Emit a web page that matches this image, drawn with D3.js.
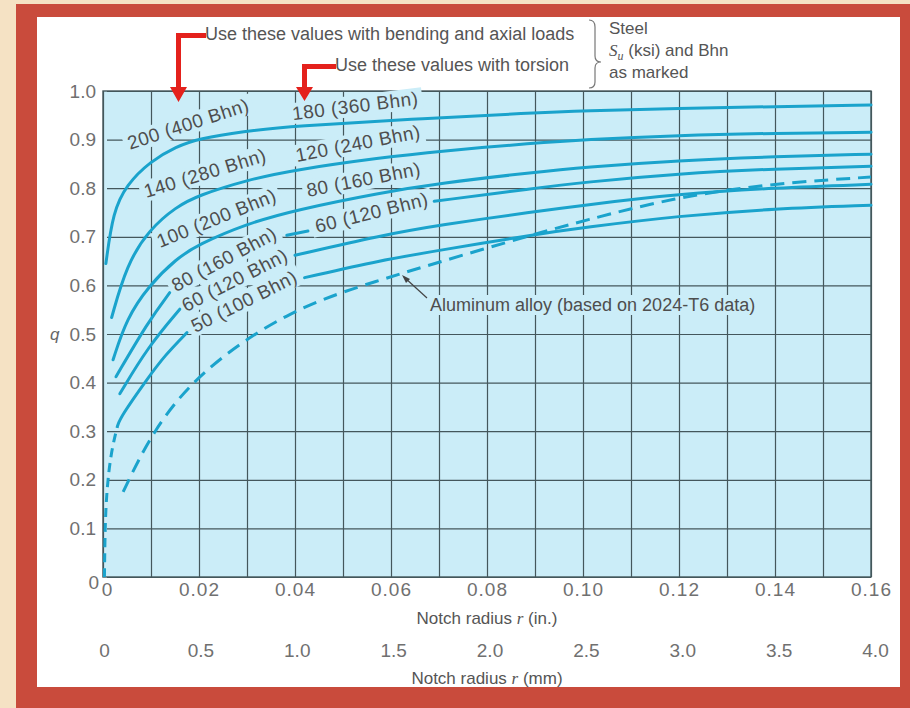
<!DOCTYPE html>
<html>
<head>
<meta charset="utf-8">
<script src="https://cdn.jsdelivr.net/npm/d3@7"></script>
<style>
  body { margin: 0; background: #f5e2c4; }
  svg { display: block; }
  text { font-family: "Liberation Sans", Arial, sans-serif; }
</style>
</head>
<body>
<div id="chart"></div>
<script>
// ---- data (x = notch radius in inches, q = notch sensitivity) ----
var xTicksIn  = [0, 0.02, 0.04, 0.06, 0.08, 0.10, 0.12, 0.14, 0.16];
var xLabelsIn = ["0", "0.02", "0.04", "0.06", "0.08", "0.10", "0.12", "0.14", "0.16"];
var xTicksMm  = [0, 0.5, 1.0, 1.5, 2.0, 2.5, 3.0, 3.5, 4.0];
var xLabelsMm = ["0", "0.5", "1.0", "1.5", "2.0", "2.5", "3.0", "3.5", "4.0"];
var yTicks    = [0, 0.1, 0.2, 0.3, 0.4, 0.5, 0.6, 0.7, 0.8, 0.9, 1.0];
var yLabels   = ["0", "0.1", "0.2", "0.3", "0.4", "0.5", "0.6", "0.7", "0.8", "0.9", "1.0"];

// each steel curve is a list of visible pieces (gaps are where labels sit)
var steel200 = [[[0.0006,0.645],[0.0021,0.752],[0.0049,0.807],[0.0098,0.855],[0.0153,0.886],[0.02,0.902],
                 [0.029,0.917],[0.04,0.928],[0.064,0.942],[0.0896,0.955],[0.10,0.959],[0.12,0.964],[0.14,0.968],[0.16,0.971]]];
var steel140 = [[[0.0018,0.534],[0.0049,0.642],[0.0096,0.715],[0.0153,0.762],[0.0198,0.785],[0.03,0.817],
                 [0.04,0.838],[0.058,0.863],[0.07,0.876],[0.09,0.893],[0.10,0.900],[0.12,0.909],[0.14,0.913],[0.16,0.915]]];
var steel100 = [[[0.0021,0.447],[0.0049,0.532],[0.0096,0.600],[0.0153,0.655],[0.0198,0.684],[0.03,0.727],
                 [0.04,0.755],[0.058,0.791],[0.07,0.810],[0.09,0.833],[0.10,0.843],[0.12,0.857],[0.14,0.865],[0.16,0.870]]];
var steel80  = [[[0.0027,0.412],[0.0094,0.525],[0.0139,0.585]],
                [[0.0383,0.703],[0.0427,0.712]],
                [[0.069,0.773],[0.09,0.800],[0.10,0.812],[0.12,0.830],[0.14,0.840],[0.16,0.845]]];
var steel60  = [[[0.0035,0.377],[0.0094,0.474],[0.016,0.551]],
                [[0.04,0.662],[0.058,0.703],[0.07,0.724],[0.09,0.752],[0.10,0.765],[0.12,0.788],[0.14,0.801],[0.16,0.808]]];
var steel50  = [[[0.003,0.31],[0.0037,0.33],[0.0094,0.41],[0.0128,0.455],[0.0175,0.503]],
                [[0.042,0.616],[0.058,0.652],[0.07,0.672],[0.09,0.705],[0.10,0.719],[0.12,0.743],[0.14,0.758],[0.16,0.765]]];
var steel50Tail = [[0.0003,0.0],[0.0004,0.08],[0.0006,0.15],[0.0012,0.22],[0.002,0.27],[0.003,0.31]];
var aluminum = [[0.0042,0.175],[0.0102,0.299],[0.02,0.423],[0.039,0.552],[0.058,0.612],[0.07,0.648],
                [0.088,0.700],[0.10,0.733],[0.12,0.783],[0.14,0.810],[0.16,0.823]];

var bendingLabels = ["200 (400 Bhn)", "140 (280 Bhn)", "100 (200 Bhn)", "80 (160 Bhn)", "60 (120 Bhn)", "50 (100 Bhn)"];
var torsionLabels = ["180 (360 Bhn)", "120 (240 Bhn)", "80 (160 Bhn)", "60 (120 Bhn)"];

// ---- layout ----
var W = 910, H = 708;
var plot = { left: 103, right: 871, top: 91, bottom: 577 };
var plotBg = "#cbedf8", curveColor = "#1aa3cc", gridColor = "#44575c";

var svg = d3.select("#chart").append("svg").attr("width", W).attr("height", H);

// frame
svg.append("rect").attr("width", W).attr("height", H).attr("fill", "#f5e2c4");
svg.append("rect").attr("x", 16).attr("y", 4).attr("width", W - 16).attr("height", H - 4).attr("fill", "#c94b3c");
svg.append("rect").attr("x", 37).attr("y", 17).attr("width", 863).attr("height", 670).attr("fill", "#ffffff");

var x = d3.scaleLinear().domain([0, 0.16]).range([plot.left, plot.right]);
var xMm = d3.scaleLinear().domain([0, 4]).range([plot.left + 1, plot.right + 4]);
var y = d3.scaleLinear().domain([0, 1]).range([plot.bottom, plot.top]);

svg.append("rect")
  .attr("x", plot.left).attr("y", plot.top)
  .attr("width", plot.right - plot.left).attr("height", plot.bottom - plot.top)
  .attr("fill", plotBg);

// grid
var gridX = d3.range(0, 17).map(function(i) { return i / 100; });
svg.append("g")
  .attr("transform", "translate(0," + plot.bottom + ")")
  .call(d3.axisBottom(x).tickValues(gridX).tickSize(-(plot.bottom - plot.top)).tickFormat(""))
  .call(function(g) { g.select(".domain").remove(); })
  .selectAll("line").attr("stroke", gridColor).attr("stroke-width", 1.2);
svg.append("g")
  .attr("transform", "translate(" + plot.left + ",0)")
  .call(d3.axisLeft(y).tickValues(yTicks).tickSize(-(plot.right - plot.left)).tickFormat(""))
  .call(function(g) { g.select(".domain").remove(); })
  .selectAll("line").attr("stroke", gridColor).attr("stroke-width", 1.2).attr("x1", 4);
svg.append("rect")
  .attr("x", plot.left).attr("y", plot.top)
  .attr("width", plot.right - plot.left).attr("height", plot.bottom - plot.top)
  .attr("fill", "none").attr("stroke", gridColor).attr("stroke-width", 1.4);

// curve labels (with a patch of plot colour so grid lines break round them)
var labelLayer = svg.append("g");
function addLabel(txt, xv, qv, angle) {
  var g = labelLayer.append("g")
    .attr("transform", "translate(" + x(xv) + "," + y(qv) + ") rotate(" + angle + ")");
  var t = g.append("text").text(txt)
    .attr("font-size", 19).attr("letter-spacing", 0.5).attr("fill", "#4e4e4e");
  var b = t.node().getBBox();
  g.insert("rect", "text")
    .attr("x", b.x - 4).attr("y", b.y).attr("width", b.width + 8).attr("height", b.height)
    .attr("fill", plotBg);
}
var bendPos = [[0.0056, 0.879, -18], [0.009, 0.780, -17], [0.0119, 0.677, -22],
               [0.0152, 0.586, -28], [0.0173, 0.545, -27], [0.0192, 0.502, -26.5]];
var torsPos = [[0.0396, 0.940, -7], [0.0404, 0.854, -11], [0.0427, 0.782, -11], [0.0446, 0.708, -14]];
bendingLabels.forEach(function(l, i) { addLabel(l, bendPos[i][0], bendPos[i][1], bendPos[i][2]); });
torsionLabels.forEach(function(l, i) { addLabel(l, torsPos[i][0], torsPos[i][1], torsPos[i][2]); });

// aluminium label
var alG = labelLayer.append("g");
var alT = alG.append("text").attr("x", 430).attr("y", 311)
  .attr("font-size", 18).attr("fill", "#4e4e4e")
  .text("Aluminum alloy (based on 2024-T6 data)");
var ab = alT.node().getBBox();
alG.insert("rect", "text").attr("x", ab.x - 4).attr("y", ab.y).attr("width", ab.width + 8)
  .attr("height", ab.height).attr("fill", plotBg);

// curves
var line = d3.line()
  .x(function(d) { return x(d[0]); })
  .y(function(d) { return y(d[1]); })
  .curve(d3.curveBasis);

var curves = svg.append("g").attr("fill", "none").attr("stroke", curveColor)
  .attr("stroke-width", 3).attr("stroke-linecap", "round");
[steel200, steel140, steel100, steel80, steel60, steel50].forEach(function(c) {
  c.forEach(function(seg) { curves.append("path").attr("d", line(seg)); });
});
curves.append("path").attr("d", line(steel50Tail)).attr("stroke-dasharray", "9,6").attr("stroke-linecap", "butt");
curves.append("path").attr("d", line(aluminum)).attr("stroke-dasharray", "14,8").attr("stroke-linecap", "butt");

// leader for aluminium label
svg.append("line").attr("x1", 427).attr("y1", 298).attr("x2", 404).attr("y2", 277)
  .attr("stroke", "#444").attr("stroke-width", 1.2);
svg.append("path").attr("d", "M402,275 L410,279 L406,283 Z").attr("fill", "#444");

// axes
var axX = svg.append("g").attr("transform", "translate(0," + plot.bottom + ")")
  .call(d3.axisBottom(x).tickValues(xTicksIn).tickFormat(function(d, i) { return xLabelsIn[i]; })
    .tickSize(0).tickPadding(6));
var axMm = svg.append("g").attr("transform", "translate(0,640)")
  .call(d3.axisBottom(xMm).tickValues(xTicksMm).tickFormat(function(d, i) { return xLabelsMm[i]; })
    .tickSize(0).tickPadding(3));
var axY = svg.append("g").attr("transform", "translate(" + plot.left + ",0)")
  .call(d3.axisLeft(y).tickValues(yTicks).tickFormat(function(d, i) { return yLabels[i]; })
    .tickSize(0).tickPadding(7));
[axX, axMm, axY].forEach(function(a) {
  a.select(".domain").remove();
  a.selectAll("text").attr("font-size", 19).attr("fill", "#707070")
    .attr("font-family", "Liberation Sans, Arial, sans-serif");
});
axX.selectAll("text").attr("letter-spacing", 1);
axX.selectAll("text").filter(function(d) { return d === 0; }).attr("dx", 4);
axY.selectAll("text").filter(function(d) { return d === 0; }).attr("dy", "0.6em").attr("x", -4);

// axis titles
function title(yPos, unit) {
  var t = svg.append("text").attr("x", 487).attr("y", yPos).attr("text-anchor", "middle")
    .attr("font-size", 17).attr("fill", "#555");
  t.append("tspan").text("Notch radius ");
  t.append("tspan").attr("font-style", "italic").attr("font-family", "Liberation Serif, serif").text("r");
  t.append("tspan").text(" (" + unit + ")");
}
title(624, "in.");
title(684, "mm");
svg.append("text").attr("x", 50).attr("y", 340).attr("font-size", 17)
  .attr("font-style", "italic").attr("font-family", "Liberation Serif, serif").attr("fill", "#666").text("q");

// top annotations
svg.append("text").attr("x", 205).attr("y", 40).attr("font-size", 18).attr("fill", "#555")
  .text("Use these values with bending and axial loads");
svg.append("text").attr("x", 335).attr("y", 71).attr("font-size", 18).attr("fill", "#555")
  .text("Use these values with torsion");

var red = "#e4211c";
svg.append("path").attr("fill", red)
  .attr("d", "M176,33 H206 V38 H181 V87 H187 L178.5,102 L170,87 H176 Z");
svg.append("path").attr("fill", red)
  .attr("d", "M302,64 H336 V69 H307 V87 H313 L304.5,101 L296,87 H302 Z");

// brace and steel note
svg.append("path").attr("fill", "none").attr("stroke", "#777").attr("stroke-width", 1.2)
  .attr("d", "M589,20 Q595,20 595,27 V56 Q595,62 601,62 Q595,62 595,68 V82 Q595,88 589,88");
var steel = svg.append("g").attr("font-size", 17).attr("fill", "#555");
steel.append("text").attr("x", 609).attr("y", 34).text("Steel");
var su = steel.append("text").attr("x", 609).attr("y", 56);
su.append("tspan").attr("font-style", "italic").attr("font-family", "Liberation Serif, serif").text("S");
su.append("tspan").attr("font-style", "italic").attr("font-family", "Liberation Serif, serif")
  .attr("font-size", 12).attr("dy", 4).text("u");
su.append("tspan").attr("dy", -4).text(" (ksi) and Bhn");
steel.append("text").attr("x", 609).attr("y", 78).text("as marked");
</script>
</body>
</html>
